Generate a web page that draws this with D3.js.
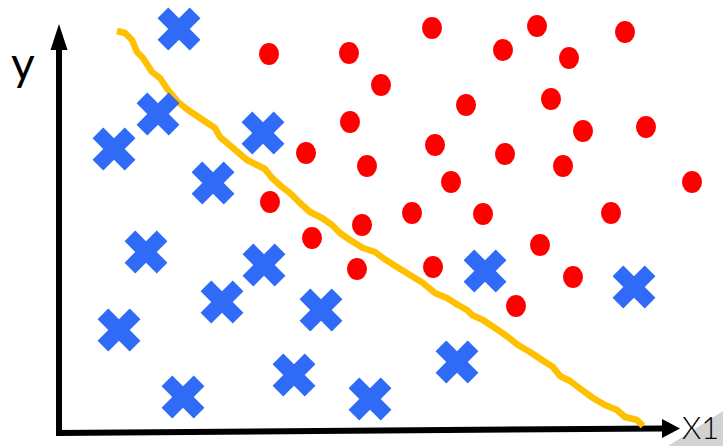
<!DOCTYPE html>
<html>
<head>
<meta charset="utf-8">
<script src="https://cdn.jsdelivr.net/npm/d3@7"></script>
<style>
  html, body { margin: 0; padding: 0; background: #fff; }
  svg { display: block; }
</style>
</head>
<body>
<svg id="chart" width="723" height="446"></svg>
<script>
// ---- data (axis units) ----
const crossX = [6.00, 4.95, 2.75, 10.20, 7.70, 4.35, 10.25, 8.15, 3.00, 13.10, 21.30, 28.75, 11.75, 19.90, 6.20, 15.55];
const crossY = [20.20, 15.95, 14.20, 15.00, 12.50, 9.05, 8.40, 6.55, 5.15, 6.15, 8.10, 7.30, 2.90, 3.55, 1.80, 1.70];

const dotX = [10.50, 14.50, 18.65, 23.90, 28.30, 22.20, 25.50, 16.10, 20.35, 24.60, 14.55, 26.20, 29.35, 12.35, 15.40, 18.80, 22.30, 25.20, 19.60, 31.65, 10.55, 12.65, 15.15, 17.65, 21.20, 27.60, 14.90, 18.70, 24.05, 25.70, 22.85];
const dotY = [18.95, 19.00, 20.25, 20.35, 20.05, 19.15, 18.75, 17.40, 16.40, 16.70, 15.55, 15.10, 15.30, 14.00, 13.35, 14.40, 13.95, 13.35, 12.55, 12.55, 11.55, 9.75, 10.40, 11.00, 10.95, 11.00, 8.20, 8.30, 9.40, 7.80, 6.35];

const boundaryX = [2.90, 3.30, 3.65, 3.90, 4.20, 4.65, 5.05, 5.45, 5.95, 6.45, 7.05, 7.80, 8.05, 8.70, 9.40, 9.90, 10.30, 10.65, 11.15, 11.55, 12.05, 12.55, 13.15, 13.65, 14.05, 14.55, 15.20, 15.80, 16.20, 16.90, 17.55, 18.20, 18.80, 19.40, 19.95, 20.40, 20.65, 21.20, 21.80, 22.45, 22.95, 23.55, 24.15, 24.70, 25.05, 25.55, 26.15, 26.70, 27.30, 27.90, 28.30, 28.90, 29.20];
const boundaryY = [20.10, 20.00, 19.65, 19.05, 18.75, 18.05, 17.75, 17.15, 16.55, 16.15, 15.75, 15.25, 14.80, 14.25, 13.65, 13.40, 13.20, 12.75, 12.30, 12.00, 11.50, 11.05, 10.75, 10.40, 10.00, 9.65, 9.25, 9.05, 8.75, 8.30, 7.90, 7.50, 7.00, 6.75, 6.40, 6.15, 5.90, 5.65, 5.25, 4.80, 4.40, 4.05, 3.65, 3.30, 2.85, 2.60, 2.15, 1.75, 1.40, 1.15, 0.80, 0.65, 0.35];

const axisLabels = ["x1", "y"];

// ---- scales ----
const x = d3.scaleLinear().domain([0, 31]).range([59, 679]);
const y = d3.scaleLinear().domain([0, 20.5]).range([433, 23]);

const svg = d3.select("#chart");

// shadow shape behind x1 label
svg.append("path")
  .attr("d", "M668,446 L723,411 L723,446 Z")
  .attr("fill", "#d2d2d2");

// ---- axes ----
const g = svg.append("g");
// y axis
g.append("line")
  .attr("x1", x(0)).attr("y1", y(0) + 3)
  .attr("x2", x(0)).attr("y2", y(19.2))
  .attr("stroke", "#000").attr("stroke-width", 6);
g.append("path")
  .attr("d", `M${x(0) - 8.5},${y(19.15)} L${x(0)},${y(20.45)} L${x(0) + 8.5},${y(19.15)} Z`)
  .attr("fill", "#000");
// x axis (slightly tilted as in reference)
g.append("line")
  .attr("x1", x(0) - 3).attr("y1", y(0))
  .attr("x2", x(30.2)).attr("y2", y(0.23))
  .attr("stroke", "#000").attr("stroke-width", 6);
g.append("path")
  .attr("d", `M${x(30.15)},${y(0.23) - 9.5} L${x(31.05)},${y(0.23)} L${x(30.15)},${y(0.23) + 9.5} Z`)
  .attr("fill", "#000");

// ---- labels ----
svg.append("text")
  .attr("x", 11).attr("y", 80)
  .attr("font-family", "Lato, 'Open Sans', sans-serif")
  .attr("font-size", 46)
  .attr("fill", "#000")
  .text(axisLabels[1]);

svg.append("text")
  .attr("x", 682).attr("y", 439)
  .attr("font-family", "Lato, 'Open Sans', sans-serif")
  .attr("font-weight", 300)
  .attr("font-size", 32)
  .attr("textLength", 37)
  .attr("lengthAdjust", "spacingAndGlyphs")
  .attr("fill", "#000")
  .text(axisLabels[0].toUpperCase());

// ---- red dots ----
svg.append("g").selectAll("ellipse")
  .data(dotX.map((d, i) => [d, dotY[i]]))
  .join("ellipse")
  .attr("cx", d => x(d[0]))
  .attr("cy", d => y(d[1]))
  .attr("rx", 10)
  .attr("ry", 11)
  .attr("fill", "#FF0000");

// ---- boundary curve ----
const line = d3.line().x(d => x(d[0])).y(d => y(d[1])).curve(d3.curveLinear);
svg.append("path")
  .datum(boundaryX.map((d, i) => [d, boundaryY[i]]))
  .attr("d", line)
  .attr("fill", "none")
  .attr("stroke", "#FFC000")
  .attr("stroke-width", 6.5)
  .attr("stroke-linejoin", "round")
  .attr("stroke-linecap", "butt");

// ---- blue crosses ----
const crossSym = d3.symbol().type(d3.symbolCross).size(1150);
svg.append("g").selectAll("path")
  .data(crossX.map((d, i) => [d, crossY[i]]))
  .join("path")
  .attr("d", crossSym)
  .attr("transform", d => `translate(${x(d[0])},${y(d[1])}) rotate(45)`)
  .attr("fill", "#2F6BF6");
</script>
</body>
</html>
